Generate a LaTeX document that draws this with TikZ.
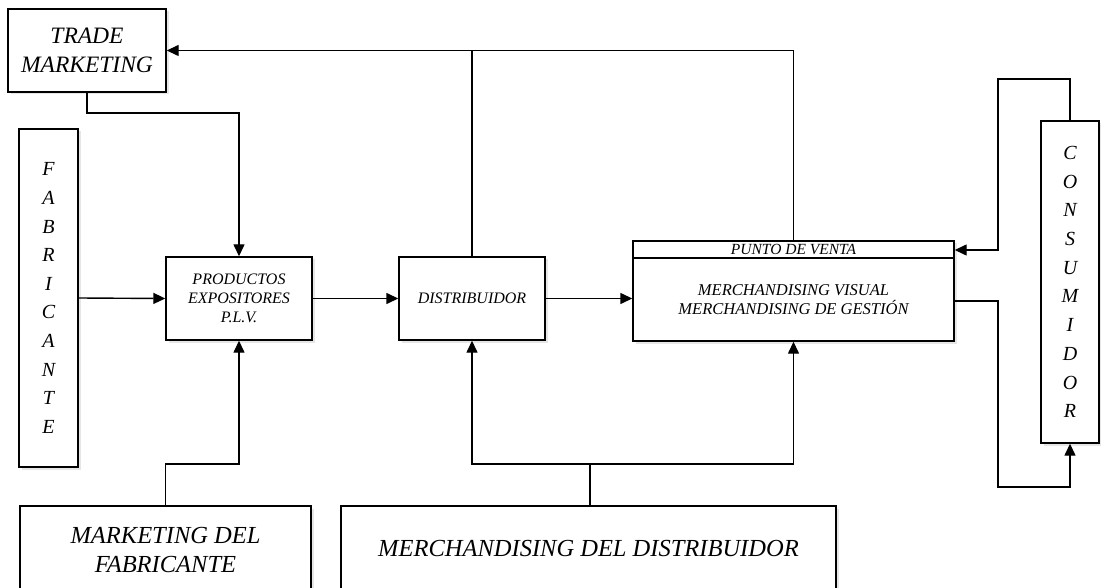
\documentclass[tikz,border=0pt]{standalone}
\usepackage{fontspec}
\setmainfont{Liberation Serif}
\usetikzlibrary{arrows.meta,shadows,calc}
\begin{document}
\begin{tikzpicture}[x=1pt,y=-1pt,
  box/.style={draw,line width=1.4pt,fill=white,rectangle,inner sep=0pt,
    align=center,font=\itshape,
    drop shadow={shadow xshift=2.5pt,shadow yshift=-2.5pt,opacity=0.2}},
  wire/.style={line width=1.4pt},
  arr/.style={wire,-{Triangle[length=12pt,width=11pt]}}]
\useasboundingbox (0,0) rectangle (1101,588);
\clip (0,0) rectangle (1101,588);

% blocks
\node[box,minimum width=158pt,minimum height=83pt,font=\itshape\fontsize{23.5}{29}\selectfont]
  (trade) at (87,50.5) {TRADE\\MARKETING};
\node[box,minimum width=59pt,minimum height=338pt,font=\itshape\fontsize{20}{28.6}\selectfont]
  (fab) at (48.5,298) {F\\A\\B\\R\\I\\C\\A\\N\\T\\E};
\node[box,minimum width=146pt,minimum height=83pt,font=\itshape\fontsize{16}{19}\selectfont]
  (prod) at (239,298.5) {PRODUCTOS\\EXPOSITORES\\P.L.V.};
\node[box,minimum width=146pt,minimum height=83pt,font=\itshape\fontsize{16}{19}\selectfont]
  (dist) at (472,298.5) {DISTRIBUIDOR};
\node[box,minimum width=321pt,minimum height=100pt] (pdv) at (793.5,291) {};
\draw[wire] (pdv.west |- 0,258) -- (pdv.east |- 0,258);
\node[font=\itshape\fontsize{15.5}{18}\selectfont,inner sep=0pt] (pdvhead) at (793.5,249.5) {PUNTO DE VENTA};
\node[font=\itshape\fontsize{16.5}{19}\selectfont,align=center,inner sep=0pt] (pdvbody) at (793.5,300)
  {MERCHANDISING VISUAL\\MERCHANDISING DE GESTIÓN};
\node[box,minimum width=58pt,minimum height=322pt,font=\itshape\fontsize{20}{28.7}\selectfont]
  (cons) at (1070,282) {C\\O\\N\\S\\U\\M\\I\\D\\O\\R};
\node[box,minimum width=291pt,minimum height=88pt,font=\itshape\fontsize{24.5}{28.6}\selectfont]
  (mfab) at (165.5,550) {MARKETING DEL\\FABRICANTE};
\node[box,minimum width=495pt,minimum height=86pt,font=\itshape\fontsize{24.5}{28.6}\selectfont]
  (mdist) at (588.5,549) {MERCHANDISING DEL DISTRIBUIDOR};

% junction points
\coordinate (t1) at (239,113);
\coordinate (b1) at (239,464);
\coordinate (b2) at (590,464);
\coordinate (c1) at (998,79);
\coordinate (c2) at (998,250);
\coordinate (c3) at (998,301);
\coordinate (c4) at (998,487);

% feedback to trade marketing
\draw[arr] (pdv.north) |- (trade.east);
\draw[wire] (dist.north) -- (dist.north |- trade.east);
\draw[arr] (trade.south) |- (t1) -- (prod.north);

% main flow
\draw[arr] (fab.east) -- (prod.west);
\draw[arr] (prod.east) -- (dist.west);
\draw[arr] (dist.east) -- (dist.east -| pdv.west);

% marketing inputs from below
\draw[arr] (mfab.north) |- (b1) -- (prod.south);
\draw[wire] (mdist.north -| b2) -- (b2);
\draw[arr] (b2) -| (dist.south);
\draw[arr] (b2) -| (pdv.south);

% consumer loop
\draw[arr] (cons.north) |- (c1) -- (c2) -- (c2 -| pdv.east);
\draw[arr] (c3 -| pdv.east) -- (c3) -- (c4) -| (cons.south);
\end{tikzpicture}
\end{document}
